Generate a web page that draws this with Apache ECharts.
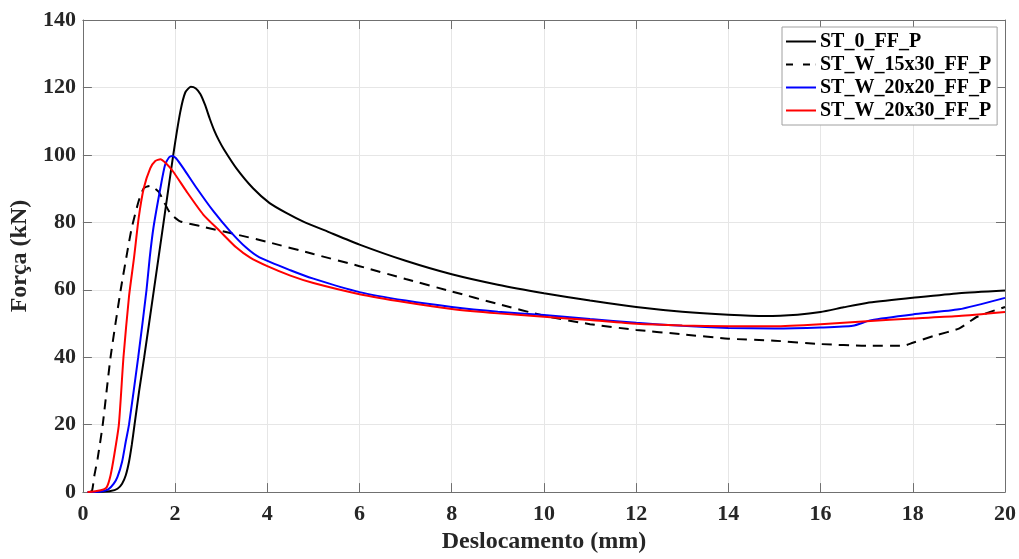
<!DOCTYPE html>
<html>
<head>
<meta charset="utf-8">
<script src="https://cdn.jsdelivr.net/npm/echarts@6/dist/echarts.min.js"></script>
<style>
html,body{margin:0;padding:0;background:#fff;}
#chart{width:1019px;height:559px;}
</style>
</head>
<body>
<div id="chart"></div>
<script>
const seriesNames = ['ST_0_FF_P', 'ST_W_15x30_FF_P', 'ST_W_20x20_FF_P', 'ST_W_20x30_FF_P'];
const xTicks = [0, 2, 4, 6, 8, 10, 12, 14, 16, 18, 20];
const yTicks = [0, 20, 40, 60, 80, 100, 120, 140];

const st0 = [[0.15,0],[0.4,0.1],[0.6,0.3],[0.75,1],[0.85,2.5],[0.93,5],[1.0,9],[1.06,14],[1.12,20],[1.22,30],[1.33,40],[1.54,60],[1.75,80],[1.96,100],[2.11,112.6],[2.22,118.5],[2.34,120.2],[2.45,119.7],[2.55,118],[2.65,114.8],[2.75,110.8],[2.85,107.2],[2.95,104.3],[3.06,101.6],[3.33,96],[3.69,90.1],[4.05,85.7],[4.41,82.8],[4.77,80.3],[5.3,77.3],[6,73.4],[7,68.6],[8,64.6],[9,61.5],[10,59],[11,56.8],[12,54.9],[13,53.5],[14,52.6],[14.8,52.2],[15.5,52.6],[16,53.4],[16.5,54.8],[17,56.1],[18,57.6],[19,59],[20,59.8]];
const st15x30 = [[0.15,0],[0.2,0.5],[0.25,5],[0.32,10],[0.43,20],[0.6,40],[0.82,60],[0.96,71],[1.06,78.4],[1.21,86.3],[1.32,90.1],[1.45,90.8],[1.64,89.1],[1.75,86.3],[1.89,82.8],[2.11,80.3],[2.54,78.9],[3.33,76.4],[4,74.2],[5,70.6],[6,67],[7,63.2],[8,59.5],[9,55.8],[10,52.3],[11,49.8],[12,48.1],[13,46.8],[14,45.5],[15,44.9],[16,43.9],[17,43.4],[17.8,43.4],[18,44.3],[18.5,46.5],[19,48.5],[19.4,52],[20,54.9]];
const st20x20 = [[0.1,0],[0.4,0.2],[0.55,0.8],[0.67,2.5],[0.75,4.5],[0.85,9],[0.93,15],[1.0,20],[1.2,40],[1.38,60],[1.45,69.6],[1.53,78.4],[1.68,90.1],[1.78,96.9],[1.87,99.3],[1.94,99.7],[2.02,99],[2.18,96],[2.47,90.1],[2.83,83.3],[3.19,77.4],[3.54,72.5],[3.83,69.6],[4.5,65.8],[5,63.3],[6,59.3],[7,56.8],[8,54.9],[9,53.5],[10,52.5],[11,51.3],[12,50.2],[13,49.3],[14,48.7],[15,48.5],[16,48.8],[16.7,49.3],[17.1,51],[18,52.7],[19,54.2],[20,57.6]];
const st20x30 = [[0.1,0],[0.3,0.3],[0.45,0.8],[0.52,1.5],[0.6,5],[0.68,11],[0.78,20],[0.88,40],[1.0,58],[1.11,69.6],[1.21,81.3],[1.32,90.1],[1.46,96],[1.57,98.2],[1.68,98.7],[1.8,97.5],[1.96,95],[2.25,89.1],[2.61,82.3],[2.97,77.4],[3.33,72.5],[3.62,69.6],[4.0,67],[4.5,64.2],[5,62],[6,58.7],[7,56.3],[8,54.3],[9,53],[10,52],[11,51],[12,49.9],[13,49.4],[14,49.2],[15,49.2],[16,49.8],[17,50.7],[18,51.5],[19,52.2],[20,53.4]];

const font = 'Liberation Serif';
const axisColor = '#707070';
const textColor = '#262626';

function mkX(pos, showLabels) {
  return {
    type: 'value', position: pos, min: xTicks[0], max: xTicks[xTicks.length-1], interval: 2,
    axisLine: {show: true, onZero: false, lineStyle: {color: axisColor, width: 1}},
    axisTick: {show: true, inside: true, length: 9, lineStyle: {color: axisColor}},
    axisLabel: {show: showLabels, margin: 11, color: textColor, fontFamily: font, fontWeight: 'bold', fontSize: 22},
    splitLine: {show: showLabels, lineStyle: {color: '#e6e6e6', width: 1}},
    name: showLabels ? 'Deslocamento (mm)' : '', nameLocation: 'middle', nameGap: 34,
    nameTextStyle: {color: textColor, fontFamily: font, fontWeight: 'bold', fontSize: 24}
  };
}
function mkY(pos, showLabels) {
  return {
    type: 'value', position: pos, min: yTicks[0], max: yTicks[yTicks.length-1], interval: 20,
    axisLine: {show: true, onZero: false, lineStyle: {color: axisColor, width: 1}},
    axisTick: {show: true, inside: true, length: 9, lineStyle: {color: axisColor}},
    axisLabel: {show: showLabels, margin: 7, color: textColor, fontFamily: font, fontWeight: 'bold', fontSize: 22},
    splitLine: {show: showLabels, lineStyle: {color: '#e6e6e6', width: 1}},
    name: showLabels ? 'Força (kN)' : '', nameLocation: 'middle', nameGap: 40,
    nameTextStyle: {color: textColor, fontFamily: font, fontWeight: 'bold', fontSize: 24}
  };
}

const chart = echarts.init(document.getElementById('chart'), null, {renderer: 'canvas'});
const datasets = [st0, st15x30, st20x20, st20x30];
const colors = ['#000000', '#000000', '#0000ff', '#ff0000'];
const types = ['solid', [10, 7], 'solid', 'solid'];
const solidIcon = 'path://M0,0h30v2h-30z';
const dashIcon = 'path://M0,0h7v2h-7z M17,0h7v2h-7z M29.8,0h0.2v2h-0.2z';
const icons = [solidIcon, dashIcon, solidIcon, solidIcon];
chart.setOption({
  animation: false,
  backgroundColor: '#ffffff',
  grid: {left: 79, right: 13, top: 20, bottom: 62, containLabel: false},
  xAxis: [mkX('bottom', true), mkX('top', false)],
  yAxis: [mkY('left', true), mkY('right', false)],
  legend: {
    orient: 'vertical', left: 782, top: 27,
    backgroundColor: '#ffffff', borderColor: '#a0a0a0', borderWidth: 1,
    padding: [3, 6, 3, 4], itemGap: 0, itemWidth: 30, itemHeight: 2,
    textStyle: {color: '#000', fontFamily: font, fontWeight: 'bold', fontSize: 20, lineHeight: 23, padding: [0, 0, 0, -1]},
    data: seriesNames.map((n, i) => ({name: n, icon: icons[i], itemStyle: {color: colors[i], borderWidth: 0}}))
  },
  series: datasets.map((d, i) => ({
    name: seriesNames[i], type: 'line', data: d, xAxisIndex: 0, yAxisIndex: 0,
    showSymbol: false, symbol: 'none', smooth: 0.2,
    lineStyle: {color: colors[i], width: 2, type: types[i]},
    itemStyle: {color: colors[i]}
  }))
});
</script>
</body>
</html>
